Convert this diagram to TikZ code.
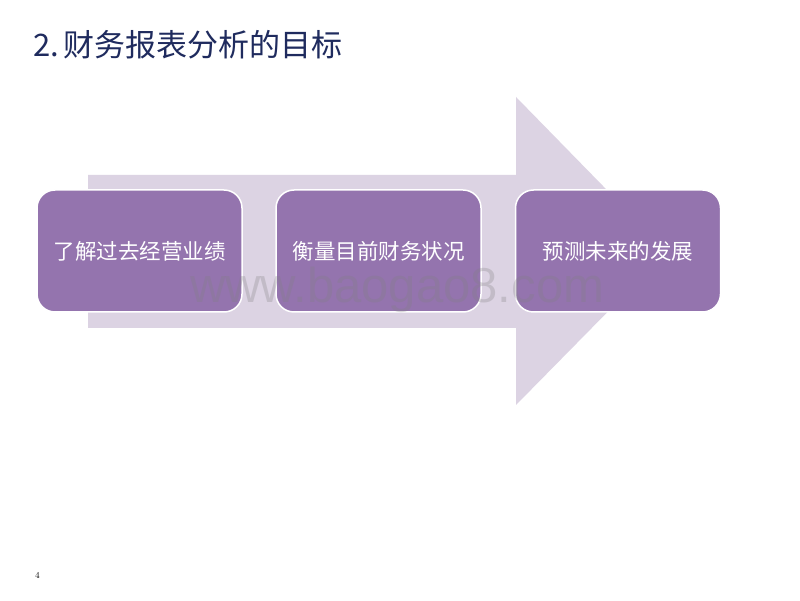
\documentclass[tikz,border=0pt]{standalone}
\usepackage{fontspec}
\newfontfamily\cjk{Noto Sans CJK SC}
\newfontfamily\wmfont{Liberation Sans}
\usepackage{tikz}
\usetikzlibrary{positioning}
\definecolor{arrowlilac}{HTML}{DCD3E3}
\definecolor{boxpurple}{HTML}{9474AE}
\definecolor{titlenavy}{HTML}{1F2B5E}
\tikzset{
  goalbox/.style={draw=white, line width=1.5pt, fill=boxpurple, rounded corners=18pt,
    minimum width=205pt, minimum height=122pt, text=white, font=\cjk\fontsize{21.5}{24}\selectfont}
}
\begin{document}
\begin{tikzpicture}[x=1pt,y=1pt]
\useasboundingbox (0,0) rectangle (800,600);
\fill[white] (0,0) rectangle (800,600);

% big arrow behind the boxes
\fill[arrowlilac] (88,425) -- (516,425) -- (516,503) -- (667,348.5)
  -- (516,195) -- (516,272) -- (88,272) -- cycle;

\node [goalbox] (past) at (139.5,349) {了解过去经营业绩};
\node [goalbox] (now) at (378.5,349) {衡量目前财务状况};
\node [goalbox] (future) at (618,349) {预测未来的发展};

\node [anchor=base west, inner sep=0pt, text=titlenavy, font=\cjk\fontsize{31}{36}\selectfont] (title) at (33,543) {2.\hspace{4pt}财务报表分析的目标};

\node [anchor=base west, inner sep=0pt, text=gray, opacity=0.28, font=\wmfont\fontsize{49}{56}\selectfont] (mark) at (190,297) {www.baogao8.com};

\node [anchor=base west, inner sep=0pt, font=\fontsize{9}{10}\selectfont] (page) at (35,22) {4};
\end{tikzpicture}
\end{document}
